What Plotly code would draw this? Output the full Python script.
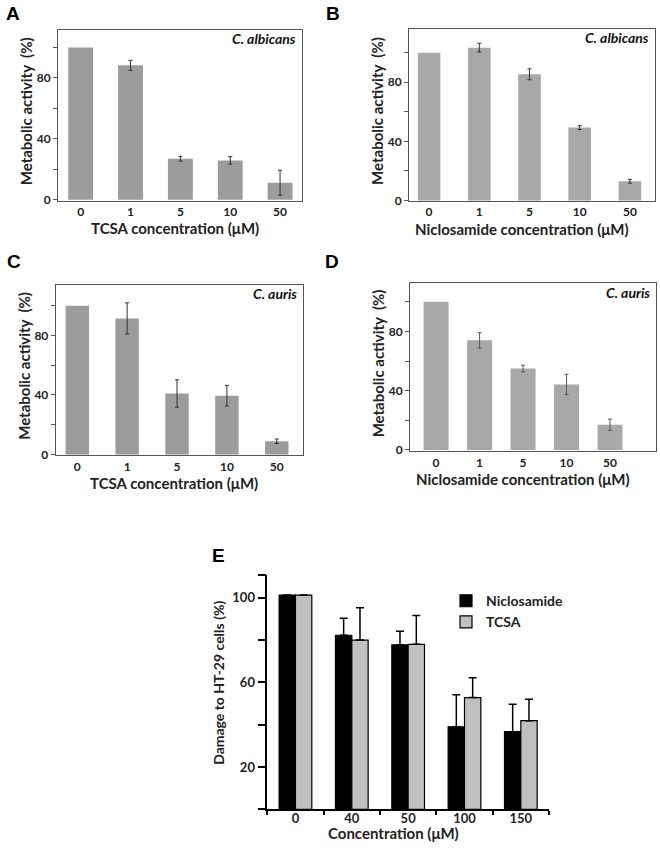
import plotly.graph_objects as go

fnt = "Lato"
W, H = 660, 850

# ---- data (None = no error bar drawn) ----
conc_candida = ["0", "1", "5", "10", "50"]

tcsa_albicans = [100, 88.3, 26.9, 25.8, 11.1]
tcsa_albicans_err = [None, 3.3, 1.6, 2.5, 8.2]

niclo_albicans = [100, 103.4, 85.4, 49.3, 13]
niclo_albicans_err = [None, 3, 3.7, 1.3, 1.3]

tcsa_auris = [100, 91.5, 41, 39.5, 8.9]
tcsa_auris_err = [None, 10.5, 9.2, 7, 1.5]

niclo_auris = [100, 74, 55, 44.2, 17]
niclo_auris_err = [None, 5.2, 2.2, 6.9, 3.8]

conc_ht29 = ["0", "40", "50", "100", "150"]
niclo_ht29 = [101.3, 82.3, 77.8, 39, 36.7]
niclo_ht29_err = [None, 8, 6.4, 15.2, 13]
tcsa_ht29 = [101.3, 80, 78, 52.8, 41.9]
tcsa_ht29_err = [None, 15.3, 13.6, 9.4, 10.1]


def px_x(v):
    return v / W


def px_y(v):
    return 1 - v / H


def no_cap(err):
    # plotly.js reads null as 0 (and still draws a cap); "NaN" makes it skip the bar
    return ["NaN" if e is None else e for e in err]


# panel boxes in pixels: left, right, top, bottom
panels = {
    "A": dict(box=(58, 302, 30, 202.3), yr=[-0.65, 111.7], xr=[-0.456, 4.44], width=0.5,
              y=tcsa_albicans, err=tcsa_albicans_err, color="#9c9c9c", errc="#333333",
              xtitle="TCSA concentration (μM)", species="C. albicans"),
    "B": dict(box=(409, 655, 29, 202.7), yr=[-0.4, 116.2], xr=[-0.40, 4.5], width=0.45,
              y=niclo_albicans, err=niclo_albicans_err, color="#a8a8a8", errc="#333333",
              xtitle="Niclosamide concentration (μM)", species="C. albicans"),
    "C": dict(box=(55.7, 302.7, 287.3, 459), yr=[-0.5, 114], xr=[-0.433, 4.52], width=0.47,
              y=tcsa_auris, err=tcsa_auris_err, color="#9c9c9c", errc="#333333",
              xtitle="TCSA concentration (μM)", species="C. auris"),
    "D": dict(box=(410, 655.7, 285.7, 455), yr=[-0.9, 112.5], xr=[-0.6, 5.05], width=0.575,
              y=niclo_auris, err=niclo_auris_err, color="#a8a8a8", errc="#555555",
              xtitle="Niclosamide concentration (μM)", species="C. auris"),
}

fig = go.Figure()
layout = dict(
    width=W, height=H, autosize=False,
    margin=dict(l=0, r=0, t=0, b=0),
    paper_bgcolor="white", plot_bgcolor="white",
    bargap=0.42, bargroupgap=0,
    showlegend=True,
    font=dict(family=fnt, color="#222222"),
)
annotations = []

tickfont = dict(size=12, family=fnt, weight="bold", color="#222222")

for i, (key, p) in enumerate(panels.items(), start=1):
    xa = "x" if i == 1 else f"x{i}"
    ya = "y" if i == 1 else f"y{i}"
    l, r, t, b = p["box"]
    fig.add_trace(go.Bar(
        x=conc_candida, y=p["y"], xaxis=xa, yaxis=ya, width=p["width"],
        marker=dict(color=p["color"], line=dict(width=0)),
        error_y=dict(type="data", array=no_cap(p["err"]), color=p["errc"], thickness=1, width=2),
        showlegend=False,
    ))
    layout["xaxis" if i == 1 else f"xaxis{i}"] = dict(
        domain=[px_x(l), px_x(r)], anchor=ya, type="category", range=p["xr"],
        showline=True, mirror=True, linecolor="#555555", linewidth=1,
        ticks="", showgrid=False, tickfont=tickfont, zeroline=False,
    )
    layout["yaxis" if i == 1 else f"yaxis{i}"] = dict(
        domain=[px_y(b), px_y(t)], anchor=xa, range=p["yr"],
        showline=True, mirror=True, linecolor="#555555", linewidth=1,
        ticks="outside", ticklen=4, tickcolor="#555555",
        tickvals=[0, 20, 40, 60, 80, 100], ticktext=["0", "", "40", "", "80", ""],
        showgrid=False, zeroline=False, tickfont=tickfont,
    )
    # axis titles
    annotations.append(dict(
        text="Metabolic activity&nbsp; (%)", xref="paper", yref="paper",
        x=px_x(l - 32), y=px_y((t + b) / 2 - 4), textangle=-90, showarrow=False,
        font=dict(size=15, family=fnt, weight="bold", color="#222222"),
        xanchor="center", yanchor="middle",
    ))
    annotations.append(dict(
        text=p["xtitle"], xref="paper", yref="paper",
        x=px_x((l + r) / 2 - 5 if key in "AC" else (l + r) / 2 - 10), y=px_y(b + 28),
        showarrow=False, font=dict(size=15, family=fnt, weight="bold", color="#222222"),
        xanchor="center", yanchor="middle",
    ))
    annotations.append(dict(
        text="<b><i>" + p["species"] + "</i></b>", xref="paper", yref="paper",
        x=px_x(r - 4), y=px_y(t + 9), showarrow=False, xanchor="right", yanchor="middle",
        font=dict(size=14, family=fnt, color="#111111"),
    ))

# panel E: grouped bars, upward error bars only
fig.add_trace(go.Bar(
    x=conc_ht29, y=niclo_ht29, xaxis="x5", yaxis="y5", name="Niclosamide",
    marker=dict(color="#000000", line=dict(color="#000000", width=1.2)),
    error_y=dict(type="data", array=no_cap(niclo_ht29_err), arrayminus=[0] * 5, symmetric=False,
                 color="#000000", thickness=1.5, width=4),
))
fig.add_trace(go.Bar(
    x=conc_ht29, y=tcsa_ht29, xaxis="x5", yaxis="y5", name="TCSA",
    marker=dict(color="#c0c0c0", line=dict(color="#000000", width=1.2)),
    error_y=dict(type="data", array=no_cap(tcsa_ht29_err), arrayminus=[0] * 5, symmetric=False,
                 color="#000000", thickness=1.5, width=4),
))
layout["xaxis5"] = dict(
    domain=[px_x(267.3), px_x(549)], anchor="y5", type="category", range=[-0.5, 4.5],
    showline=True, linecolor="#000000", linewidth=1.5,
    ticks="outside", tickson="boundaries", ticklen=4, tickwidth=1.5, tickcolor="#000000",
    ticklabelstandoff=-4,
    showgrid=False, zeroline=False,
    tickfont=dict(size=13, family=fnt, weight="bold", color="#222222"),
)
layout["yaxis5"] = dict(
    domain=[px_y(816), px_y(579.3)], anchor="x5", range=[0, 111],
    showline=True, linecolor="#000000", linewidth=1.5,
    ticks="outside", ticklen=8, tickwidth=1.5, tickcolor="#000000",
    tickvals=[0, 20, 40, 60, 80, 100, 111], ticktext=["", "20", "", "60", "", "100", ""],
    showgrid=False, zeroline=False,
    tickfont=dict(size=13, family=fnt, weight="bold", color="#222222"),
)
annotations.append(dict(
    text="Damage to HT-29 cells (%)", xref="paper", yref="paper",
    x=px_x(219), y=px_y(688.5), textangle=-90, showarrow=False,
    xanchor="center", yanchor="middle",
    font=dict(size=14, family=fnt, weight="bold", color="#222222"),
))
annotations.append(dict(
    text="Concentration (μM)", xref="paper", yref="paper",
    x=px_x(393), y=px_y(840), showarrow=False, xanchor="center", yanchor="middle",
    font=dict(size=15, family=fnt, weight="bold", color="#222222"),
))
layout["legend"] = dict(
    x=px_x(446), y=px_y(590), xanchor="left", yanchor="top",
    font=dict(size=14, family=fnt, weight="bold", color="#222222"),
    bgcolor="rgba(0,0,0,0)", tracegroupgap=0, itemwidth=30,
)

# panel letters
for letter, (lx, ly) in {"A": (13, 13.5), "B": (333, 13.5), "C": (13.5, 263.5),
                         "D": (332, 263.5), "E": (218.3, 560)}.items():
    annotations.append(dict(
        text=letter, xref="paper", yref="paper", x=px_x(lx), y=px_y(ly),
        showarrow=False, xanchor="center", yanchor="middle",
        font=dict(size=19, family="Liberation Sans", weight="bold", color="#000000"),
    ))

layout["annotations"] = annotations
fig.update_layout(**layout)

# drop the default body margin so the figure sits at the page corner
fig.write_html("out.html", config={"displayModeBar": False},
               post_script="document.body.style.margin='0';")
